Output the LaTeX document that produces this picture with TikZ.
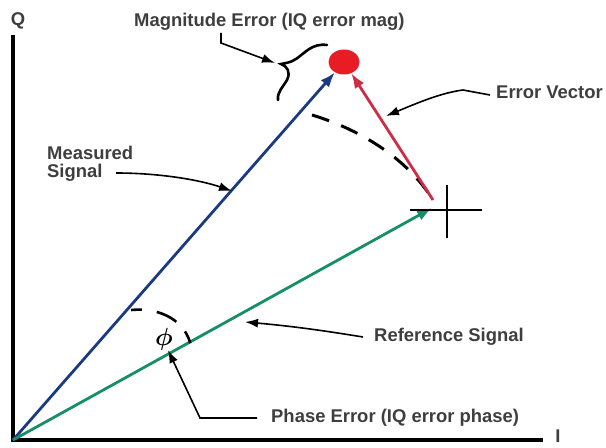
\documentclass[tikz,border=0pt]{standalone}
\usepackage{fontspec}
\setsansfont{Liberation Sans}
\usepackage{xcolor}
\usetikzlibrary{arrows.meta,positioning,shapes.geometric}
\definecolor{measblue}{RGB}{28,58,128}
\definecolor{refgreen}{RGB}{22,142,102}
\definecolor{errred}{RGB}{205,45,70}
\definecolor{dotred}{RGB}{232,28,36}
\definecolor{labelgray}{RGB}{62,62,62}

\begin{document}
\begin{tikzpicture}[x=1bp, y=-1bp, >=Latex,
 every node/.style={font=\sffamily\bfseries\fontsize{18.5}{18}\selectfont, text=labelgray, inner sep=1bp},
 axis/.style={line width=4bp},
 vec/.style={line width=2.8bp, -{Latex[length=15bp,width=11bp]}},
 leader/.style={line width=1.6bp, -{Latex[length=13bp,width=9bp]}},
 guide/.style={line width=3bp, dash pattern=on 18bp off 13bp},
 crossmark/.style={line width=2.6bp},
 errdot/.style={ellipse, fill=dotred, minimum width=31bp, minimum height=25bp, inner sep=0pt}]
\useasboundingbox (0,0) rectangle (606,448);
% axes
\coordinate (o) at (13,440);
\coordinate (qtop) at (13,35);
\coordinate (iend) at (543,440);
\draw[axis] (qtop) -- (o) -- (iend);
\node (qlabel) at (18,21) {Q};
\node (ilabel) at (558,436) {I};
% vectors
\node[errdot] (err) at (344,62) {};
\coordinate (refpt) at (432,208);
\coordinate (errtail) at (433,200);
\coordinate (crossc) at (447,210);
\draw[guide] (312,115) .. controls (355,128) and (405,155) .. (errtail);
\draw[vec, measblue] (o) -- (err);
\draw[vec, refgreen] (o) -- (refpt);
\draw[vec, errred] (errtail) -- (err);
\draw[crossmark] (crossc) ++(-37,0) -- ++(72,0) (crossc) ++(0,-25) -- ++(0,53);
% phase angle
\draw[line width=2.6bp, dash pattern=on 11bp off 15bp on 22bp off 13bp on 13bp] (131,310) .. controls (162,307) and (186,322) .. (191,346);
\node[font=\boldmath\fontsize{24}{24}\selectfont, text=black] (phi) at (164,339) {$\phi$};
% magnitude brace
\draw[line width=2.6bp, line cap=round] (327,45) .. controls (312,43) and (305,53) .. (296,59) .. controls (290,63) and (285,63) .. (281,64) .. controls (287,66) and (291,72) .. (287,80) .. controls (283,87) and (277,92) .. (278,100);
% labels
\node[anchor=west] (magerr) at (133,22) {Magnitude Error (IQ error mag)};
\node[anchor=west, align=left] (meas) at (46,164) {Measured\\Signal};
\node[anchor=west] (errvec) at (495,92) {Error Vector};
\node[anchor=west] (refsig) at (373,337) {Reference Signal};
\node[anchor=west] (phase) at (270,418) {Phase Error (IQ error phase)};
% leaders
\coordinate (magknee) at (221,43);
\coordinate (bracetip) at (275,63);
\coordinate (meastip) at (232,191);
\coordinate (evtip) at (386,116);
\coordinate (reftip) at (245,322);
\coordinate (phknee) at (200,418);
\coordinate (phtip) at (168,350);
\draw[leader] (221,33) -- (magknee) -- (bracetip);
\draw[leader] (116,173) .. controls (160,173) and (200,180) .. (meastip);
\draw[leader] ([xshift=-5bp,yshift=-3bp]errvec.west) -- (463,90) .. controls (440,93) and (415,104) .. (evtip);
\draw[leader] ([xshift=-10bp]refsig.west) .. controls (320,330) and (290,326) .. (reftip);
\draw[leader] ([xshift=-13bp]phase.west) -- (phknee) -- (phtip);
\end{tikzpicture}
\end{document}
